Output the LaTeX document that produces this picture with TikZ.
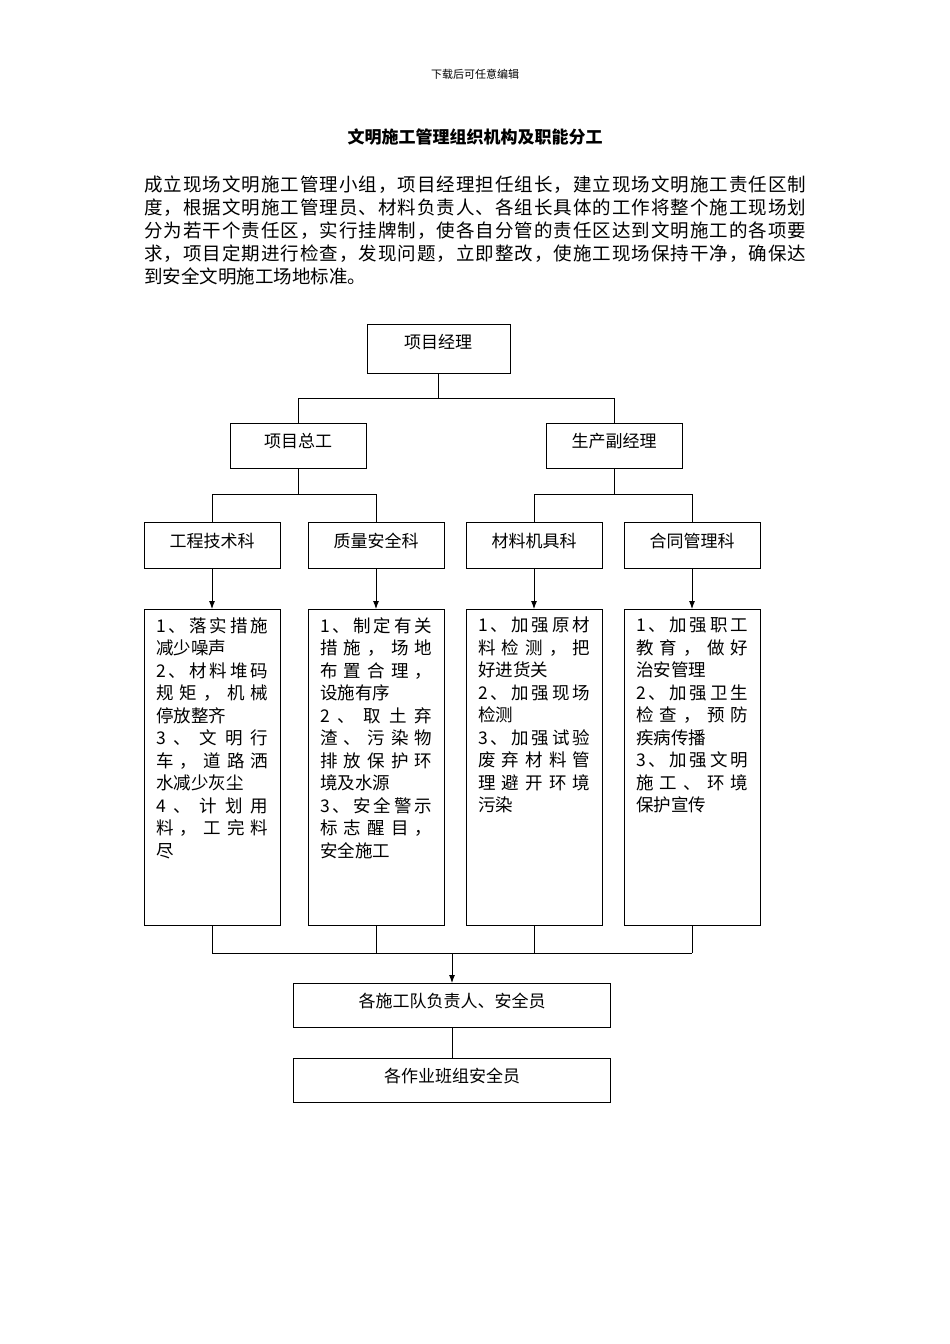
\documentclass[tikz,border=0pt]{standalone}
\usepackage{fontspec}
\setmainfont{Noto Sans CJK SC}
\usetikzlibrary{arrows.meta}
\ExplSyntaxOn
\NewDocumentCommand\J{O{112pt}m}{\hbox to #1{\hskip 0pt plus -1fil \tl_map_inline:nn{#2}{\hskip 0pt plus 1fil ##1}}}
\ExplSyntaxOff
\begin{document}
\begin{tikzpicture}[x=1pt,y=-1pt,
  bx/.style={draw,line width=0.9pt,inner sep=0pt},
  ln/.style={line width=0.9pt},
  ar/.style={line width=0.9pt,-{Latex[length=8pt,width=6pt]}},
  lab/.style={font=\fontsize{17}{20}\selectfont},
  body/.style={anchor=north west,align=left,inner sep=0pt,font=\fontsize{17.5}{22.5}\selectfont}]
\useasboundingbox (0,0) rectangle (950,1344);
\node (hd) at (475,74) {\fontsize{11}{13}\selectfont 下载后可任意编辑};
\node (tt) at (475,137) {\fontsize{17}{20}\selectfont\bfseries 文明施工管理组织机构及职能分工};
\node[anchor=north west,align=left,inner sep=0pt,font=\fontsize{18.5}{23}\selectfont] (pg) at (144,176)
 {\J[662pt]{成立现场文明施工管理小组，项目经理担任组长，建立现场文明施工责任区制}\\
  \J[662pt]{度，根据文明施工管理员、材料负责人、各组长具体的工作将整个施工现场划}\\
  \J[662pt]{分为若干个责任区，实行挂牌制，使各自分管的责任区达到文明施工的各项要}\\
  \J[662pt]{求，项目定期进行检查，发现问题，立即整改，使施工现场保持干净，确保达}\\
  到安全文明施工场地标准。};
% boxes
\draw[bx] (367,324) rectangle (510,373); \node[lab] (pm) at (438,342) {项目经理};
\draw[bx] (230,423) rectangle (366,468); \node[lab] (ze) at (298,441) {项目总工};
\draw[bx] (546,423) rectangle (682,468); \node[lab] (fj) at (614,441) {生产副经理};
\foreach \x/\t/\n in {212/工程技术科/a,376/质量安全科/b,534/材料机具科/c,692/合同管理科/d}{
  \draw[bx] (\x-68,522) rectangle (\x+68,568);
  \node[lab] (k\n) at (\x,541) {\t};
  \draw[bx] (\x-68,609) rectangle (\x+68,925);
  \draw[ar] (\x,568) -- (\x,609);
  \draw[ln] (\x,925) -- (\x,953);
}
\draw[ln] (438,373) -- (438,398); \draw[ln] (298,398) -- (614,398);
\draw[ln] (298,398) -- (298,423); \draw[ln] (614,398) -- (614,423);
\draw[ln] (298,468) -- (298,494); \draw[ln] (212,494) -- (376,494);
\draw[ln] (212,494) -- (212,522); \draw[ln] (376,494) -- (376,522);
\draw[ln] (614,468) -- (614,494); \draw[ln] (534,494) -- (692,494);
\draw[ln] (534,494) -- (534,522); \draw[ln] (692,494) -- (692,522);
\draw[ln] (212,953) -- (692,953);
\draw[ar] (452,953) -- (452,983);
\draw[bx] (293,983) rectangle (610,1027); \node[lab] (dz) at (452,1001) {各施工队负责人、安全员};
\draw[ln] (452,1027) -- (452,1058);
\draw[bx] (293,1058) rectangle (610,1102); \node[lab] (bz) at (452,1076) {各作业班组安全员};
% texts
\node[body] (ta) at (156,617) {\J{1、落实措施}\\减少噪声\\\J{2、材料堆码}\\\J{规矩，机械}\\停放整齐\\\J{3、文明行}\\\J{车，道路洒}\\水减少灰尘\\\J{4、计划用}\\\J{料，工完料}\\尽};
\node[body] (tb) at (320,617) {\J{1、制定有关}\\\J{措施，场地}\\\J{布置合理，}\\设施有序\\\J{2、取土弃}\\\J{渣、污染物}\\\J{排放保护环}\\境及水源\\\J{3、安全警示}\\\J{标志醒目，}\\安全施工};
\node[body] (tc) at (478,617) {\J{1、加强原材}\\\J{料检测，把}\\好进货关\\\J{2、加强现场}\\检测\\\J{3、加强试验}\\\J{废弃材料管}\\\J{理避开环境}\\污染};
\node[body] (td) at (636,617) {\J{1、加强职工}\\\J{教育，做好}\\治安管理\\\J{2、加强卫生}\\\J{检查，预防}\\疾病传播\\\J{3、加强文明}\\\J{施工、环境}\\保护宣传};
\end{tikzpicture}
\end{document}
